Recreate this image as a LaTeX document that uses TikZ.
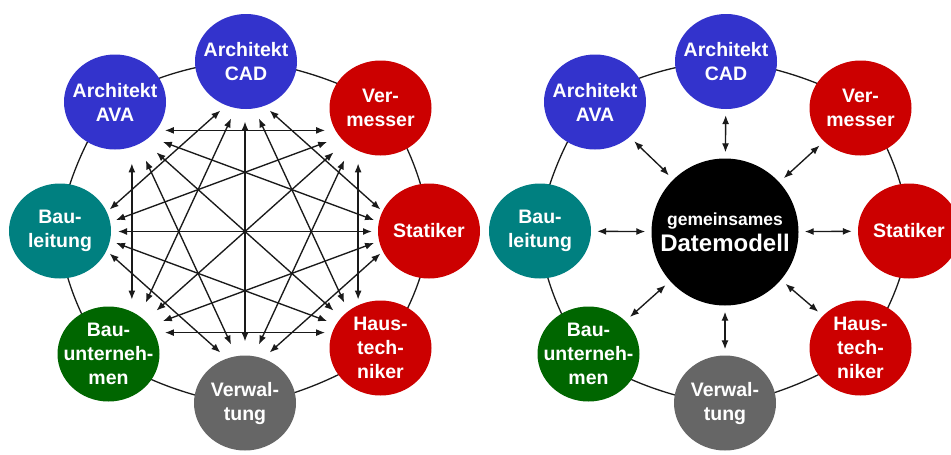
\documentclass[tikz,border=0pt]{standalone}
\usepackage{fontspec}
\setmainfont{Liberation Sans}
\usetikzlibrary{arrows.meta,shapes.geometric}

\definecolor{archblue}{HTML}{3333CC}
\definecolor{tradered}{HTML}{CC0000}
\definecolor{siteteal}{HTML}{008080}
\definecolor{buildgreen}{HTML}{006600}
\definecolor{admingray}{HTML}{666666}
\definecolor{linegray}{HTML}{1A1A1A}

\tikzset{
  party/.style={ellipse, minimum width=102pt, minimum height=95pt,
    inner xsep=-14pt, inner ysep=-10pt,
    text=white, align=center, font=\fontsize{19.5}{24}\selectfont\bfseries},
  ring/.style={draw=linegray, line width=1.3pt},
  link/.style={draw=linegray, line width=1.35pt,
    {Latex[length=9pt,width=7pt]}-{Latex[length=9pt,width=7pt]}},
  mesh/.style={link, shorten <=33pt, shorten >=33pt},
  spoke/.style={link, shorten <=6pt, shorten >=6pt},
  hubnode/.style={circle, fill=black, minimum size=147pt, inner sep=0pt,
    text=white, align=center, font=\fontsize{24}{26}\selectfont\bfseries}
}

\begin{document}
\begin{tikzpicture}[x=1pt,y=-1pt]
\useasboundingbox (0,0) rectangle (951,455);
\fill[white] (0,0) rectangle (951,455);

% the same ring of eight participants, twice side by side
\foreach \s/\dx in {l/0,r/480}{
  \begin{scope}[xshift=\dx pt]
    \draw[ring] plot[smooth cycle] coordinates {(246,61.5) (380.5,108) (429,231)
      (380.5,348) (245,403) (108.5,354) (60,231) (115,102)};
    \node[party, fill=archblue]   (\s cad)  at (246,61.5)  {Architekt\\CAD};
    \node[party, fill=tradered]   (\s verm) at (380.5,108) {Ver-\\messer};
    \node[party, fill=tradered]   (\s stat) at (429,231)   {Statiker};
    \node[party, fill=tradered]   (\s haus) at (380.5,348) {Haus-\\tech-\\niker};
    \node[party, fill=admingray]  (\s verw) at (245,403)   {Verwal-\\tung};
    \node[party, fill=buildgreen] (\s bau)  at (108.5,354) {Bau-\\unterneh-\\men};
    \node[party, fill=siteteal]   (\s bl)   at (60,231)    {Bau-\\leitung};
    \node[party, fill=archblue]   (\s ava)  at (115,102)   {Architekt\\AVA};
  \end{scope}
}

% left: every participant talks to every non-neighbour directly
\coordinate (meshc) at (245,231.5);
\foreach \i/\a in {1/90,2/45,3/0,4/-45,5/-90,6/-135,7/180,8/135}
  \path (meshc) ++(\a:160pt and 143pt) coordinate (p\i);
\foreach \i in {1,...,8}{
  \foreach \d in {2,3}{
    \pgfmathtruncatemacro\j{mod(\i+\d-1,8)+1}
    \draw[mesh] (p\i) -- (p\j);
  }
}
\foreach \i in {1,...,4}{
  \pgfmathtruncatemacro\j{\i+4}
  \draw[mesh] (p\i) -- (p\j);
}

% right: one shared data model in the middle
\node[hubnode] (hub) at (725,232)
  {{\fontsize{17.5}{26}\selectfont gemeinsames}\\Datemodell};
\foreach \n in {cad,verm,stat,haus,verw,bau,bl,ava}
  \draw[spoke] (hub) -- (r\n);
\end{tikzpicture}
\end{document}
